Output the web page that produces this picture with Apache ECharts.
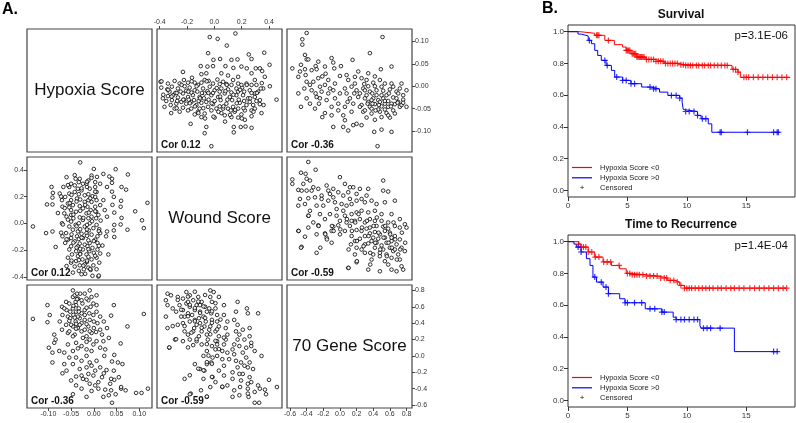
<!DOCTYPE html>
<html><head><meta charset="utf-8">
<script src="https://cdn.jsdelivr.net/npm/echarts@6/dist/echarts.min.js"></script>
<style>html,body{margin:0;padding:0;background:#fff}#c{width:796px;height:423px}</style>
</head><body><div id="c"></div><script>
// ---------- DATA ----------
const varNames = ['Hypoxia Score', 'Wound Score', '70 Gene Score'];
const hypTicks = [-0.10, -0.05, 0, 0.05, 0.10];
const woundTicks = [-0.4, -0.2, 0, 0.2, 0.4];
const geneTicks = [-0.6, -0.4, -0.2, 0, 0.2, 0.4, 0.6, 0.8];
const corHW = 'Cor 0.12', corHG = 'Cor -0.36', corWG = 'Cor -0.59';

// [wound, hypoxia]
const woundHypoxia = [
[-0.034,0.110],[0.024,0.106],[0.154,0.118],[0.091,0.091],[-0.046,0.074],[-0.007,0.059],[0.042,0.061],[0.125,0.059],[0.169,0.060],[0.252,0.071],[0.272,0.061],[0.365,0.075],
[-0.100,0.045],[-0.051,0.044],[-0.010,0.045],[0.081,0.045],[0.139,0.041],[0.198,0.044],[0.237,0.040],[0.303,0.040],[0.333,0.040],[0.404,0.048],
[-0.230,0.032],[-0.095,0.027],[-0.059,0.029],[0.051,0.029],[0.100,0.024],[0.174,0.021],[0.272,0.029],[0.350,0.034],[0.369,0.021],[0.296,0.014],
[-0.394,0.010],[-0.291,0.012],[-0.223,0.014],[-0.164,0.019],[-0.120,0.003],[-0.071,0.014],[-0.042,0.012],[0.022,0.015],[0.064,0.010],[0.137,0.014],[0.174,0.006],[0.235,0.006],[0.308,0.003],[0.357,-0.005],[0.406,0.000],
[-0.389,-0.003],[-0.345,-0.007],[-0.311,-0.001],[-0.267,-0.005],[-0.218,0.000],[-0.181,-0.003],[-0.144,-0.009],[-0.083,-0.005],[-0.034,-0.001],[0.002,-0.009],[0.051,-0.005],[0.100,-0.007],[0.161,-0.005],[0.203,-0.003],[0.259,-0.009],[0.296,-0.016],[0.340,-0.005],
[-0.377,-0.027],[-0.340,-0.022],[-0.303,-0.020],[-0.267,-0.025],[-0.230,-0.016],[-0.193,-0.024],[-0.157,-0.020],[-0.108,-0.024],[-0.071,-0.016],[-0.022,-0.020],[0.027,-0.024],[0.076,-0.016],[0.113,-0.024],[0.161,-0.020],[0.210,-0.020],[0.247,-0.027],[0.296,-0.024],[0.333,-0.031],[0.455,-0.030],
[-0.365,-0.046],[-0.320,-0.042],[-0.279,-0.039],[-0.242,-0.035],[-0.206,-0.039],[-0.169,-0.035],[-0.132,-0.042],[-0.095,-0.037],[-0.059,-0.035],[-0.010,-0.040],[0.039,-0.045],[0.088,-0.039],[0.137,-0.046],[0.186,-0.037],[0.235,-0.042],[0.284,-0.042],[0.333,-0.040],
[-0.316,-0.060],[-0.254,-0.057],[-0.193,-0.054],[-0.120,-0.057],[-0.071,-0.061],[-0.022,-0.054],[0.051,-0.060],[0.100,-0.050],[0.149,-0.057],[0.198,-0.063],[0.272,-0.054],
[0.002,-0.070],[0.125,-0.069],[0.272,-0.067],[0.345,-0.060],[-0.174,-0.084],[-0.059,-0.091],[0.142,-0.091],[0.193,-0.091],[0.228,-0.090],[0.272,-0.093],[-0.071,-0.105],[0.142,-0.103],[-0.022,-0.134],
[-0.328,-0.012],[-0.286,-0.015],[-0.247,-0.012],[-0.206,-0.010],[-0.169,-0.014],[-0.125,-0.012],[-0.091,-0.015],[-0.051,-0.011],[-0.010,-0.015],[0.039,-0.012],[0.081,-0.011],[0.125,-0.014],[0.174,-0.012],[0.218,-0.012],[0.272,-0.015],[0.320,-0.012],
[-0.352,-0.033],[-0.311,-0.031],[-0.272,-0.033],[-0.223,-0.030],[-0.188,-0.030],[-0.149,-0.031],[-0.115,-0.033],[-0.076,-0.027],[-0.042,-0.030],[0.002,-0.033],[0.046,-0.031],[0.095,-0.030],[0.130,-0.031],[0.179,-0.030],[0.218,-0.033],[0.259,-0.035],[0.308,-0.033],
[-0.340,0.006],[-0.254,0.006],[-0.193,0.008],[-0.144,0.008],[-0.095,0.008],[-0.010,0.006],[0.039,0.005],[0.088,0.005],[0.125,0.003],[0.198,0.003],[0.272,0.003],
[-0.291,-0.050],[-0.230,-0.048],[-0.169,-0.050],[-0.108,-0.050],[-0.046,-0.046],[0.015,-0.050],[0.064,-0.050],[0.120,-0.054],[0.174,-0.050],[0.223,-0.054],[0.296,-0.050],
[-0.144,-0.063],[-0.095,-0.069],[0.076,-0.065],[0.174,-0.070],[0.223,-0.075],
[-0.387,0.011],[-0.338,-0.008],[-0.374,-0.019],[-0.313,-0.023],[-0.276,-0.015],[-0.240,0.003],[-0.228,-0.030],[-0.191,-0.012],[-0.179,-0.038],[-0.142,-0.045],
[-0.130,0.000],[-0.105,-0.027],[-0.081,-0.049],[-0.056,0.011],[-0.044,-0.015],[-0.020,-0.038],[-0.007,-0.068],[0.017,-0.004],[0.042,-0.023],[0.066,-0.045],
[0.091,0.003],[0.115,-0.064],[0.139,-0.019],[0.164,-0.038],[0.188,-0.008],[0.213,-0.049],[0.237,0.003],[0.262,-0.027],[0.286,-0.057],[0.311,-0.015],
[0.347,0.007],[0.360,-0.042],[-0.166,0.011],[-0.276,-0.049],[-0.117,-0.060],[0.029,-0.057],[0.152,-0.053],[0.201,-0.072],[-0.068,-0.072],[0.078,-0.079]
];

// [gene70, hypoxia]
const geneHypoxia = [
[-0.40,0.119],[-0.452,0.105],[-0.452,0.093],[-0.42,0.070],[-0.40,0.060],[-0.38,0.060],[-0.572,0.040],[-0.468,0.048],[-0.42,0.038],[-0.48,0.033],[-0.50,0.021],[-0.412,0.025],
[-0.26,0.055],[-0.292,0.045],[-0.28,0.038],[-0.212,0.022],[-0.172,0.028],[-0.10,0.063],[-0.08,0.053],[-0.068,0.040],[0.012,0.045],[0.152,0.059],[0.08,0.025],[0.22,0.033],[0.36,0.074],[0.512,0.110],[0.492,0.038],[0.62,0.044],
[-0.32,0.010],[-0.40,0.010],[-0.428,-0.005],[-0.50,-0.016],[-0.468,-0.046],[-0.40,-0.027],[-0.34,-0.009],[-0.28,-0.024],[-0.252,-0.039],[-0.18,0.003],[-0.14,-0.016],[-0.08,-0.009],[-0.06,-0.027],
[-0.18,-0.060],[-0.212,-0.069],[-0.10,-0.046],[-0.02,-0.039],[0.00,-0.016],[0.06,-0.005],[0.04,-0.065],[0.06,-0.076],[-0.08,-0.091],[0.10,-0.099],[0.04,-0.091],[0.16,-0.087],[0.20,-0.084],[0.14,-0.057],[0.12,-0.027],
[0.10,0.014],[0.18,0.006],[0.26,0.018],[0.32,0.014],[0.40,0.008],[0.48,0.014],[0.54,0.006],[0.62,0.006],[0.74,0.006],
[0.20,-0.009],[0.28,-0.005],[0.36,-0.012],[0.44,-0.009],[0.52,-0.010],[0.60,-0.007],[0.68,-0.012],[0.76,-0.020],[0.80,-0.009],
[0.22,-0.024],[0.30,-0.027],[0.34,-0.035],[0.40,-0.027],[0.46,-0.031],[0.52,-0.027],[0.58,-0.033],[0.64,-0.025],[0.70,-0.035],[0.76,-0.030],[0.80,-0.046],
[0.26,-0.042],[0.36,-0.046],[0.42,-0.040],[0.50,-0.045],[0.58,-0.046],[0.66,-0.040],[0.72,-0.046],
[0.28,-0.057],[0.38,-0.061],[0.48,-0.057],[0.56,-0.060],[0.64,-0.054],[0.32,-0.070],[0.42,-0.075],[0.50,-0.069],[0.60,-0.070],
[0.26,-0.087],[0.412,-0.102],[0.50,-0.097],[0.62,-0.102],[0.452,-0.134],
[-0.24,-0.001],[-0.36,0.003],[-0.22,-0.012],[-0.16,-0.031],[-0.30,-0.050],[-0.10,-0.065],[-0.02,-0.054],[0.06,-0.046],[0.08,-0.016],[0.14,-0.001],[0.16,-0.039],
[0.24,-0.016],[0.32,-0.020],[0.38,-0.031],[0.44,-0.020],[0.48,-0.035],[0.54,-0.039],[0.56,-0.020],[0.62,-0.039],[0.68,-0.027],[0.70,-0.016],
[0.50,-0.001],[0.42,0.000],[0.34,0.000],[0.30,-0.009],[0.38,-0.050],[0.46,-0.052],[0.54,-0.052],[0.58,-0.065],[0.66,-0.061],[0.74,-0.042],[0.64,-0.001],[0.72,-0.005],
[0.42,0.022],[0.34,0.029],[0.18,0.021],[0.00,0.023],[-0.18,0.044],[-0.34,0.036],[-0.14,0.014],[-0.06,0.006],[-0.26,0.018],
[0.392,-0.039],[0.468,-0.042],[0.54,-0.033],[0.612,-0.045],[0.692,-0.037],[0.76,-0.037],[0.30,-0.054],[0.24,-0.046],[0.428,-0.054],[0.332,-0.039],
[0.50,-0.020],[0.588,-0.016],[0.388,-0.016],[0.292,0.005],[0.172,-0.016],[0.092,-0.035],[-0.12,-0.005],[-0.292,-0.016],[-0.36,-0.039],[-0.24,-0.027]
];

// [gene70, wound]
const geneWound = [
[-0.38,0.458],[-0.468,0.378],[-0.292,0.400],[-0.572,0.328],[-0.572,0.295],[-0.412,0.370],[-0.40,0.333],[-0.36,0.320],[-0.44,0.295],[-0.32,0.270],
[-0.50,0.250],[-0.46,0.245],[-0.40,0.245],[-0.34,0.245],[-0.26,0.258],[-0.48,0.183],[-0.38,0.188],[-0.30,0.195],[-0.22,0.208],[-0.16,0.283],[-0.14,0.245],[-0.08,0.258],
[0.00,0.345],[0.06,0.295],[0.12,0.270],[0.16,0.270],[0.24,0.258],[0.34,0.258],[0.52,0.320],[0.52,0.245],[0.58,0.238],
[-0.50,0.133],[-0.42,0.145],[-0.36,0.095],[-0.38,0.058],[-0.28,0.133],[-0.20,0.133],[-0.14,0.170],[-0.08,0.195],[-0.02,0.233],[0.04,0.208],[0.10,0.233],[0.20,0.220],[0.26,0.183],
[0.02,0.145],[-0.04,0.108],[0.08,0.133],[0.14,0.145],[0.30,0.158],[0.38,0.170],[0.44,0.145],[0.54,0.158],[0.66,0.170],
[-0.50,-0.055],[-0.42,-0.098],[-0.46,-0.173],[-0.38,-0.030],[-0.26,-0.013],[-0.28,-0.080],[-0.18,-0.073],[-0.16,-0.105],[-0.08,-0.023],[-0.02,-0.013],
[0.06,0.058],[0.14,0.070],[0.20,0.083],[0.26,0.095],[0.34,0.083],[0.42,0.095],[0.50,0.070],[0.62,0.070],[0.72,0.033],[0.78,-0.005],[0.80,-0.030],
[-0.28,-0.218],[-0.10,-0.143],[0.00,-0.080],[0.06,-0.055],[0.12,-0.018],[0.18,0.020],[0.24,0.033],[0.30,0.008],[0.36,0.033],[0.42,0.020],[0.50,0.020],[0.58,0.008],[0.66,-0.018],[0.72,-0.030],
[0.14,-0.093],[0.18,-0.130],[0.24,-0.113],[0.30,-0.093],[0.36,-0.073],[0.42,-0.063],[0.48,-0.080],[0.54,-0.055],[0.60,-0.068],[0.66,-0.093],[0.72,-0.118],
[0.132,-0.155],[0.20,-0.180],[0.30,-0.155],[0.38,-0.130],[0.44,-0.143],[0.50,-0.163],[0.56,-0.143],[0.62,-0.130],[0.68,-0.155],[0.74,-0.180],
[0.18,-0.230],[0.30,-0.218],[0.40,-0.230],[0.48,-0.218],[0.56,-0.230],[0.64,-0.205],[0.70,-0.230],[0.78,-0.205],
[0.10,-0.330],[0.20,-0.288],[0.34,-0.343],[0.48,-0.355],[0.58,-0.305],[0.62,-0.343],[0.68,-0.355],[0.74,-0.318],[0.76,-0.343],[0.38,-0.268],[0.54,-0.280],
[0.36,-0.030],[0.44,-0.018],[0.52,-0.023],[0.58,-0.038],[0.62,-0.105],[0.54,-0.105],[0.46,-0.113],[0.40,-0.105],[0.34,-0.148],[0.42,-0.180],[0.52,-0.193],[0.60,-0.180],[0.66,-0.193],
[0.48,-0.243],[0.62,-0.255],[0.72,-0.268],[0.26,-0.193],[0.26,-0.055],[0.20,-0.048],[0.32,-0.038],[0.14,0.020],[0.08,0.008],[0.04,0.095],[-0.04,0.058],[-0.12,0.070],
[-0.18,0.033],[-0.24,0.070],[-0.32,0.008],[-0.22,0.183],[-0.12,0.220],[-0.06,0.158],[0.12,0.183],[0.20,0.170],[0.32,0.208],[0.00,0.020],[-0.10,-0.055],
[-0.496,-0.055],[-0.468,-0.180],[-0.376,0.058],[-0.256,-0.018],[-0.236,-0.180],[-0.176,-0.080],[-0.156,-0.118],[-0.096,-0.018],[-0.076,-0.055],[0.004,-0.043],
[0.084,0.033],[0.104,-0.193],[0.144,-0.055],[0.184,0.008],[0.204,-0.130],[0.224,0.070],[0.264,-0.030],[0.284,-0.168],[0.324,0.020],[0.344,-0.093],
[0.364,-0.218],[0.404,-0.018],[0.424,-0.143],[0.444,0.045],[0.464,-0.068],[0.484,-0.193],[0.524,-0.105],[0.544,-0.018],[0.564,-0.243],[0.584,-0.143],
[0.604,-0.080],[0.624,-0.180],[0.644,0.008],[0.664,-0.118],[0.684,-0.268],[0.724,-0.193],[0.744,-0.068],[0.784,-0.143],[0.204,-0.280],[0.364,-0.305],[0.104,-0.330]
];

// Kaplan-Meier: Survival
const survLowTimes = [0, 1.0, 2.25, 3.1, 3.9, 4.6, 4.9, 5.3, 5.8, 6.5, 7.3, 8.1, 9.3, 9.8, 13.8, 14.3, 14.5, 18.7];
const survLowProb  = [1.0, 0.99, 0.977, 0.945, 0.918, 0.903, 0.882, 0.861, 0.84, 0.825, 0.813, 0.80, 0.792, 0.787, 0.762, 0.745, 0.712, 0.712];
const survHighTimes = [0, 0.84, 1.1, 1.7, 1.97, 2.25, 2.5, 2.8, 3.2, 3.65, 3.93, 4.6, 5.3, 6.2, 7.0, 7.7, 8.4, 9.4, 9.6, 9.7, 9.8, 10.9, 11.2, 11.8, 12.1, 17.8];
const survHighProb  = [1.0, 0.985, 0.973, 0.945, 0.924, 0.882, 0.85, 0.819, 0.787, 0.756, 0.714, 0.693, 0.672, 0.651, 0.64, 0.619, 0.598, 0.581, 0.556, 0.509, 0.497, 0.472, 0.451, 0.419, 0.366, 0.366];
const survLowCensor = [2.4, 2.5, 2.6, 3.4, 4.9, 5.0, 5.1, 5.2, 5.4, 5.5, 5.6, 5.7, 5.8, 5.9, 6.0, 6.1, 6.2, 6.3, 6.4, 6.6, 6.8, 7.0, 7.2, 7.4, 7.6, 7.8, 8.0, 8.2, 8.4, 8.6, 8.8, 9.0, 9.2, 9.5, 9.7, 9.9, 10.1, 10.3, 10.5, 10.8, 11.0, 11.3, 11.5, 11.8, 12.0, 12.3, 12.6, 12.9, 13.2, 13.4, 13.9, 14.1, 14.3, 14.8, 15.0, 15.2, 15.6, 16.0, 16.4, 16.8, 17.2, 17.6, 18.0, 18.4];
const survHighCensor = [1.8, 3.1, 3.3, 4.1, 4.6, 4.9, 5.3, 5.6, 6.9, 7.2, 7.4, 8.7, 9.1, 9.4, 9.9, 10.2, 10.6, 10.9, 11.3, 11.6, 12.8, 12.9, 15.1, 17.3, 17.6, 17.7];
// Kaplan-Meier: Time to Recurrence
const recLowTimes = [0, 0.9, 1.1, 1.7, 2.25, 2.95, 3.65, 4.35, 4.9, 5.3, 6.5, 7.6, 8.4, 9.0, 9.4, 9.8, 18.4];
const recLowProb  = [1.0, 0.985, 0.966, 0.935, 0.903, 0.872, 0.85, 0.829, 0.80, 0.792, 0.783, 0.771, 0.756, 0.745, 0.724, 0.707, 0.707];
const recHighTimes = [0, 0.5, 0.7, 1.1, 1.55, 1.85, 2.1, 2.4, 2.95, 3.4, 4.35, 4.8, 6.5, 7.9, 8.85, 9.1, 11.1, 11.2, 14.0, 17.7];
const recHighProb  = [1.0, 0.985, 0.966, 0.935, 0.893, 0.85, 0.777, 0.745, 0.714, 0.672, 0.64, 0.615, 0.577, 0.556, 0.524, 0.509, 0.472, 0.455, 0.307, 0.307];
const recLowCensor = [0.9, 1.1, 1.3, 1.5, 1.7, 2.0, 2.3, 2.6, 3.0, 3.3, 3.6, 4.3, 5.0, 5.2, 5.4, 5.6, 5.8, 6.0, 6.3, 6.6, 6.9, 7.2, 7.5, 7.8, 8.1, 8.3, 8.6, 8.9, 9.2, 9.5, 9.8, 10.0, 10.2, 10.4, 10.7, 11.0, 11.3, 11.6, 11.9, 12.2, 12.6, 12.9, 13.3, 13.7, 14.0, 14.4, 14.8, 15.3, 15.7, 16.1, 16.5, 16.9, 17.3, 17.7, 18.1, 18.4];
const recHighCensor = [0.85, 1.1, 2.25, 2.8, 3.2, 3.4, 4.8, 5.0, 5.6, 6.2, 6.9, 7.3, 7.9, 8.1, 9.1, 9.5, 9.8, 10.2, 10.6, 10.9, 11.4, 11.7, 12.0, 12.8, 17.3, 17.6];
const kmTitles = ['Survival', 'Time to Recurrence'];
const pValues = ['p=3.1E-06', 'p=1.4E-04'];
const legendLabels = ['Hypoxia Score <0', 'Hypoxia Score >0', 'Censored'];
const kmXTicks = [0, 5, 10, 15];
const kmYTicks = [0, 0.2, 0.4, 0.6, 0.8, 1.0];

// ---------- LAYOUT / STYLE ----------
const FONT = 'Liberation Sans, Arial, sans-serif';
const colLeft = [27, 157, 287], rowTop = [29, 157, 285], PW = 125, PH = 123;
const ranges = [[-0.147, 0.128], [-0.42, 0.495], [-0.636, 0.866]];
const ticks = [hypTicks, woundTicks, geneTicks];
const decs = [2, 1, 1];
const RED = '#ff0000', BLUE = '#0000ff';

function fmt(v, d) { if (Math.abs(v) < 1e-9) v = 0; return v.toFixed(d); }
function mkAxis(gi, vi, pos, show) {
  return {
    type: 'value', gridIndex: gi, min: ranges[vi][0], max: ranges[vi][1], position: pos,
    axisLine: { show: false, onZero: false },
    axisTick: { show: show, length: 3, lineStyle: { color: '#444', width: 1 }, customValues: ticks[vi] },
    axisLabel: { show: show, customValues: ticks[vi], fontSize: 7, color: '#333', margin: 3, fontFamily: FONT,
      formatter: v => fmt(v, decs[vi]) },
    splitLine: { show: false }
  };
}
function txt(text, x, y, size, opts) {
  const o = Object.assign({ align: 'left', valign: 'middle', weight: 'normal', fill: '#111', z: 10 }, opts || {});
  return { type: 'text', z: o.z, x: x, y: y,
    style: { text: text, fontSize: size, fontWeight: o.weight, fontFamily: FONT, fill: o.fill,
      align: o.align, verticalAlign: o.valign, textAlign: o.align, textVerticalAlign: o.valign } };
}

const grids = [], xAxes = [], yAxes = [], series = [], graphics = [];
const pairData = { '0,1': woundHypoxia, '0,2': geneHypoxia, '1,2': geneWound };
const corText = { '0,1': corHW, '0,2': corHG, '1,2': corWG };

for (let r = 0; r < 3; r++) {
  for (let c = 0; c < 3; c++) {
    const gi = r * 3 + c;
    grids.push({ left: colLeft[c], top: rowTop[r], width: PW, height: PH, show: true,
      borderColor: '#444', borderWidth: 1.2, backgroundColor: 'transparent' });
    const xPos = (c === 1) ? 'top' : 'bottom';
    const xShow = (c === 1 && r === 0) || (c !== 1 && r === 2);
    const yPos = (r === 1) ? 'left' : 'right';
    const yShow = (r === 1 && c === 0) || (r !== 1 && c === 2);
    xAxes.push(mkAxis(gi, c, xPos, xShow));
    yAxes.push(mkAxis(gi, r, yPos, yShow));
    if (r === c) {
      graphics.push(txt(varNames[r], colLeft[c] + PW / 2, rowTop[r] + PH / 2, 17, { align: 'center' }));
      continue;
    }
    const key = r < c ? r + ',' + c : c + ',' + r;
    const src = pairData[key];
    const data = r < c ? src : src.map(p => [p[1], p[0]]);
    series.push({ type: 'scatter', xAxisIndex: gi, yAxisIndex: gi, data: data, symbol: 'circle', symbolSize: 3.6,
      itemStyle: { color: '#ffffff', borderColor: '#000', borderWidth: 1 }, silent: true, z: 2 });
    graphics.push(txt(corText[key], colLeft[c] + 4, rowTop[r] + PH - 7, 10, { weight: 'bold' }));
  }
}

// KM panels
const kmTop = [25, 235], kmH = 172, kmLeft = 568, kmW = 227;
const kmSets = [
  [survLowTimes, survLowProb, survHighTimes, survHighProb, survLowCensor, survHighCensor],
  [recLowTimes, recLowProb, recHighTimes, recHighProb, recLowCensor, recHighCensor]
];
function stepAt(times, probs, t) { let s = probs[0]; for (let i = 0; i < times.length; i++) { if (times[i] <= t) s = probs[i]; } return s; }
const PLUS = 'path://M4,0H6V4H10V6H6V10H4V6H0V4H4Z';
for (let k = 0; k < 2; k++) {
  const gi = 9 + k;
  grids.push({ left: kmLeft, top: kmTop[k], width: kmW, height: kmH, show: true, borderColor: '#333', borderWidth: 1 });
  xAxes.push({ type: 'value', gridIndex: gi, min: 0, max: 19.1, position: 'bottom',
    axisLine: { show: false, onZero: false },
    axisTick: { show: true, length: 4, lineStyle: { color: '#333' }, customValues: kmXTicks },
    axisLabel: { show: true, customValues: kmXTicks, fontSize: 8, color: '#333', margin: 5, fontFamily: FONT },
    splitLine: { show: false } });
  yAxes.push({ type: 'value', gridIndex: gi, min: -0.042, max: 1.042, position: 'left',
    axisLine: { show: false, onZero: false },
    axisTick: { show: true, length: 4, lineStyle: { color: '#333' }, customValues: kmYTicks },
    axisLabel: { show: true, customValues: kmYTicks, fontSize: 8, color: '#333', margin: 4, fontFamily: FONT, formatter: v => fmt(v, 1) },
    splitLine: { show: false } });
  const [lt, lp, ht, hp, lc, hc] = kmSets[k];
  series.push({ type: 'line', step: 'end', xAxisIndex: gi, yAxisIndex: gi, showSymbol: false, silent: true,
    data: lt.map((t, i) => [t, lp[i]]), lineStyle: { color: RED, width: 1 }, itemStyle: { color: RED }, z: 3 });
  series.push({ type: 'line', step: 'end', xAxisIndex: gi, yAxisIndex: gi, showSymbol: false, silent: true,
    data: ht.map((t, i) => [t, hp[i]]), lineStyle: { color: BLUE, width: 1 }, itemStyle: { color: BLUE }, z: 3 });
  series.push({ type: 'scatter', xAxisIndex: gi, yAxisIndex: gi, symbol: PLUS, symbolSize: 6, silent: true,
    data: lc.map(t => [t, stepAt(lt, lp, t)]), itemStyle: { color: RED }, z: 4 });
  series.push({ type: 'scatter', xAxisIndex: gi, yAxisIndex: gi, symbol: PLUS, symbolSize: 6, silent: true,
    data: hc.map(t => [t, stepAt(ht, hp, t)]), itemStyle: { color: BLUE }, z: 4 });
  graphics.push(txt(kmTitles[k], 681, kmTop[k] - 10, 12, { align: 'center', weight: 'bold' }));
  graphics.push(txt(pValues[k], 788, kmTop[k] + 10.5, 11.5, { align: 'right' }));
  const ly = kmTop[k] + 142.5;
  graphics.push({ type: 'rect', z: 10, shape: { x: 572, y: ly - 0.6, width: 20, height: 1.2 }, style: { fill: RED } });
  graphics.push({ type: 'rect', z: 10, shape: { x: 572, y: ly + 9.7, width: 20, height: 1.2 }, style: { fill: BLUE } });
  graphics.push(txt('+', 582, ly + 20.5, 8, { align: 'center' }));
  for (let j = 0; j < 3; j++) {
    graphics.push(txt(legendLabels[j], 600, ly + j * 10.3, 7.5, { fill: '#222' }));
  }
}
graphics.push(txt('A.', 2, 10, 16, { weight: 'bold', fill: '#000' }));
graphics.push(txt('B.', 542, 9, 16, { weight: 'bold', fill: '#000' }));

const chart = echarts.init(document.getElementById('c'), null, { renderer: 'canvas' });
chart.setOption({
  animation: false, backgroundColor: '#fff',
  grid: grids, xAxis: xAxes, yAxis: yAxes, series: series, graphic: { elements: graphics }
});
</script></body></html>
